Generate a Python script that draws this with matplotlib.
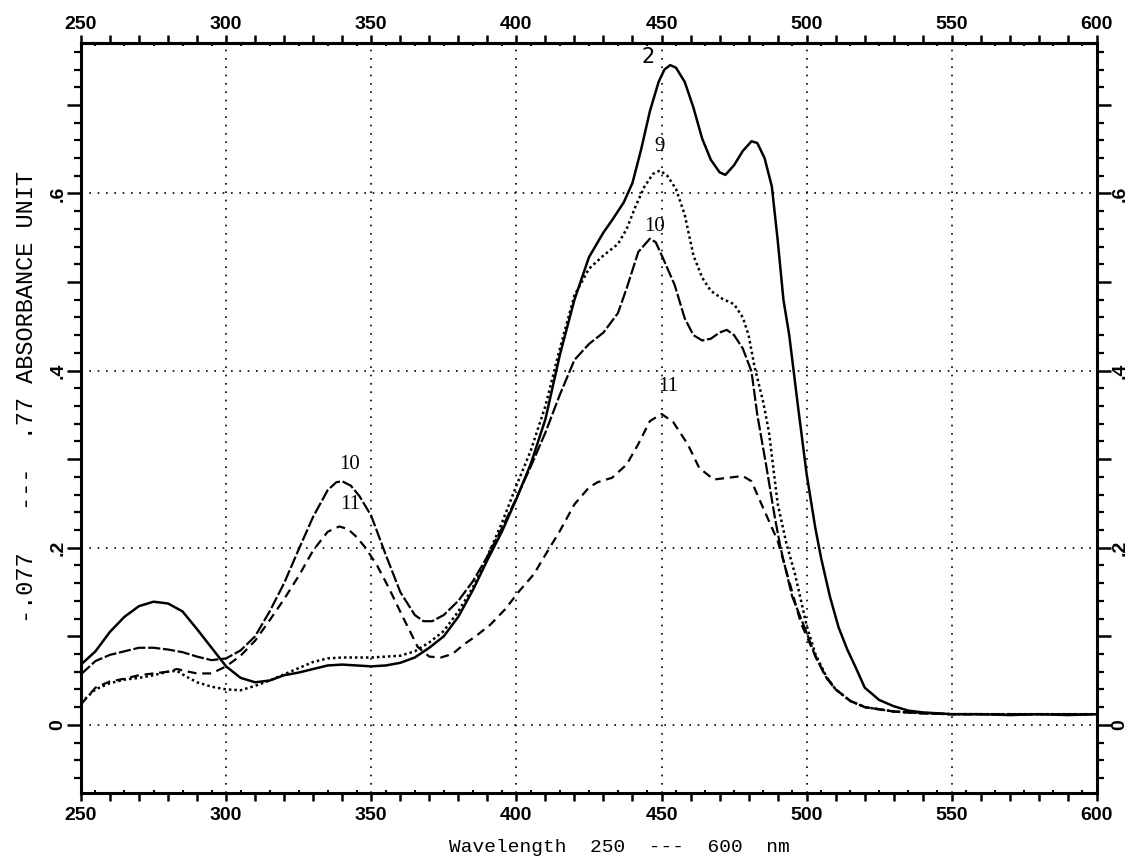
import numpy as np
import matplotlib
matplotlib.use("Agg")
import matplotlib.pyplot as plt
from matplotlib.ticker import MultipleLocator, FuncFormatter

# bold sans for the tick numbers
plt.rcParams["font.family"] = "Liberation Sans"
plt.rcParams["font.weight"] = "bold"
plt.rcParams["xtick.labelsize"] = 14
plt.rcParams["ytick.labelsize"] = 14

# absorbance spectra, curves 2, 9, 10, 11 (wavelength nm, absorbance)
wl_2 = [250, 255, 260, 265, 270, 275, 280, 285, 290, 295, 300, 305, 310, 315, 320,
        325, 330, 335, 340, 345, 350, 355, 360, 365, 370, 375, 380, 385, 390, 395,
        400, 405, 410, 415, 420, 425, 430, 433, 437, 440, 443, 446, 449, 451, 453,
        455, 458, 461, 464, 467, 470, 472, 475, 478, 481, 483, 485.5, 488, 490, 492,
        494, 497, 500, 503, 505, 508, 511, 514, 517, 520, 525, 530, 535, 540, 550,
        560, 570, 580, 590, 600]
abs_2 = [0.068, 0.083, 0.105, 0.122, 0.134, 0.139, 0.137, 0.128, 0.108, 0.087, 0.066,
         0.053, 0.048, 0.050, 0.056, 0.059, 0.063, 0.067, 0.068, 0.067, 0.066, 0.067,
         0.070, 0.076, 0.087, 0.100, 0.122, 0.152, 0.186, 0.218, 0.255, 0.295, 0.345,
         0.418, 0.480, 0.528, 0.556, 0.570, 0.590, 0.612, 0.650, 0.693, 0.726, 0.740,
         0.745, 0.742, 0.726, 0.697, 0.662, 0.638, 0.624, 0.621, 0.632, 0.648, 0.659,
         0.657, 0.640, 0.608, 0.548, 0.480, 0.440, 0.360, 0.283, 0.222, 0.188, 0.145,
         0.110, 0.085, 0.064, 0.042, 0.028, 0.021, 0.016, 0.014, 0.012, 0.012, 0.011,
         0.012, 0.011, 0.012]

wl_9 = [250, 255, 260, 265, 270, 275, 280, 283, 286, 290, 295, 300, 305, 310, 315,
        320, 325, 330, 335, 340, 345, 350, 355, 360, 365, 370, 375, 380, 385, 390,
        395, 400, 405, 410, 415, 420, 425, 430, 435, 438, 441, 444, 447, 449.5, 452,
        455, 458, 461, 464, 467, 471, 475, 478, 480, 482, 485, 487, 490, 493, 496,
        500, 503, 507, 510, 515, 520, 530, 540, 550, 600]
abs_9 = [0.025, 0.040, 0.047, 0.051, 0.053, 0.056, 0.060, 0.061, 0.055, 0.048, 0.043,
         0.040, 0.039, 0.044, 0.050, 0.057, 0.064, 0.071, 0.075, 0.076, 0.076, 0.076,
         0.077, 0.078, 0.083, 0.093, 0.106, 0.128, 0.155, 0.190, 0.228, 0.270, 0.310,
         0.360, 0.425, 0.485, 0.515, 0.530, 0.543, 0.560, 0.585, 0.607, 0.622, 0.626,
         0.620, 0.605, 0.576, 0.530, 0.505, 0.490, 0.481, 0.475, 0.460, 0.440, 0.405,
         0.365, 0.331, 0.250, 0.205, 0.170, 0.112, 0.080, 0.053, 0.040, 0.027, 0.020,
         0.015, 0.013, 0.012, 0.012]

wl_10 = [250, 255, 260, 265, 270, 275, 280, 285, 290, 295, 300, 305, 310, 315, 320,
         325, 330, 335, 338, 340, 343, 346, 350, 355, 360, 365, 368, 371, 375, 380,
         385, 390, 395, 400, 405, 410, 415, 420, 425, 430, 435, 438, 442, 446, 448,
         450.5, 454.5, 458, 461, 464, 467, 470, 472.5, 475, 478, 481, 483, 486, 489,
         491, 495, 500, 503, 507, 510, 515, 520, 530, 540, 550, 600]
abs_10 = [0.057, 0.072, 0.079, 0.083, 0.087, 0.087, 0.085, 0.082, 0.077, 0.073, 0.075,
          0.084, 0.100, 0.128, 0.160, 0.198, 0.235, 0.265, 0.274, 0.275, 0.270, 0.258,
          0.236, 0.192, 0.150, 0.124, 0.117, 0.117, 0.124, 0.140, 0.162, 0.190, 0.222,
          0.256, 0.292, 0.330, 0.373, 0.412, 0.430, 0.443, 0.465, 0.493, 0.534, 0.549,
          0.545, 0.527, 0.497, 0.459, 0.440, 0.434, 0.436, 0.443, 0.446, 0.440, 0.425,
          0.399, 0.350, 0.294, 0.235, 0.200, 0.145, 0.104, 0.077, 0.052, 0.040, 0.027,
          0.020, 0.015, 0.013, 0.012, 0.012]

wl_11 = [250, 255, 260, 265, 270, 275, 280, 283, 287, 290, 295, 300, 305, 310, 315,
         320, 325, 330, 335, 339, 342, 345, 348, 352, 356, 361, 366, 370, 374, 378,
         382, 386, 391, 396, 401, 406, 410, 415, 420, 425, 428, 433, 438, 442, 446,
         450, 454, 459, 463, 468, 473, 478, 481, 485, 490, 494, 498, 502, 506, 510,
         515, 520, 530, 540, 550, 600]
abs_11 = [0.023, 0.042, 0.049, 0.052, 0.056, 0.058, 0.060, 0.063, 0.060, 0.058, 0.058,
          0.066, 0.078, 0.095, 0.118, 0.142, 0.168, 0.197, 0.218, 0.224, 0.221, 0.212,
          0.200, 0.180, 0.155, 0.121, 0.088, 0.077, 0.076, 0.080, 0.091, 0.100, 0.113,
          0.130, 0.151, 0.170, 0.192, 0.219, 0.249, 0.268, 0.274, 0.279, 0.294, 0.317,
          0.343, 0.351, 0.342, 0.317, 0.290, 0.277, 0.279, 0.281, 0.275, 0.245, 0.208,
          0.162, 0.115, 0.085, 0.058, 0.040, 0.027, 0.020, 0.015, 0.013, 0.012, 0.012]

# curve numbers written next to the peaks: (text, wavelength, absorbance)
peak_labels = [("2", 445.4, 0.754), ("9", 449.4, 0.653), ("10", 447.7, 0.563),
               ("11", 452.3, 0.382), ("10", 342.6, 0.294), ("11", 342.6, 0.249)]

fig = plt.figure(figsize=(11.29, 8.61), dpi=100)
ax = fig.add_axes([0.0717, 0.0790, 0.8999, 0.8711])

ax.plot(wl_2, abs_2, color="black", lw=1.8, ls="-")
ax.plot(wl_9, abs_9, color="black", lw=1.8, ls=(0, (1.0, 1.2)))
ax.plot(wl_10, abs_10, color="black", lw=1.6, ls=(0, (5.5, 1.2)))
ax.plot(wl_11, abs_11, color="black", lw=1.6, ls=(0, (4.0, 2.6)))

for txt, x, y in peak_labels:
    fam = "DejaVu Sans" if txt == "2" else "Liberation Serif"
    ax.text(x, y, txt, ha="center", va="center", fontsize=15, family=fam,
            weight="normal")

ax.set_xlim(250, 600)
ax.set_ylim(-0.077, 0.77)

# dotted grid at 50 nm and 0.2 absorbance
for gx in [300, 350, 400, 450, 500, 550]:
    ax.axvline(gx, color="black", lw=1.2, ls=(0, (1, 4)))
for gy in [0, 0.2, 0.4, 0.6]:
    ax.axhline(gy, color="black", lw=1.2, ls=(0, (1, 4)))

for s in ax.spines.values():
    s.set_linewidth(2.2)


def xlab(v, p):
    return "%d" % v if round(v) % 50 == 0 else ""


def ylab(v, p):
    if abs(v) < 1e-6:
        return "0"
    k = int(round(v * 10))
    return ".%d" % k if k in (2, 4, 6) else ""


# bottom wavelength axis
ax.xaxis.set_major_locator(MultipleLocator(10))
ax.xaxis.set_minor_locator(MultipleLocator(5))
ax.xaxis.set_major_formatter(FuncFormatter(xlab))
ax.tick_params(axis="x", which="major", direction="out", length=6, width=1.8,
               top=False, bottom=True, pad=4)
ax.tick_params(axis="x", which="minor", direction="in", length=2.5, width=1.5,
               top=False, bottom=True)

# top wavelength axis, same scale
top = ax.secondary_xaxis("top")
top.xaxis.set_major_locator(MultipleLocator(10))
top.xaxis.set_minor_locator(MultipleLocator(5))
top.xaxis.set_major_formatter(FuncFormatter(xlab))
top.tick_params(axis="x", which="major", direction="out", length=6, width=1.8, pad=1)
top.tick_params(axis="x", which="minor", direction="in", length=2.5, width=1.5)
top.spines["top"].set_linewidth(2.2)

# absorbance axis, left and right
ax.yaxis.set_major_locator(MultipleLocator(0.1))
ax.yaxis.set_minor_locator(MultipleLocator(0.02))
ax.yaxis.set_major_formatter(FuncFormatter(ylab))
ax.tick_params(axis="y", which="major", direction="out", length=10, width=1.8,
               left=True, right=True, labelleft=True, labelright=True, pad=0.5,
               labelrotation=90)
ax.tick_params(axis="y", which="minor", direction="out", length=5, width=1.6,
               left=True, right=True)
plt.setp(ax.yaxis.get_majorticklabels(), va="center")

fig.text(619 / 1129, 1 - 848 / 861, "Wavelength  250  ---  600  nm", ha="center",
         va="center", family="Liberation Mono", weight="normal", fontsize=14)
fig.text(27 / 1129, 1 - 397 / 861, "-.077   ---  .77 ABSORBANCE UNIT",
         rotation=90, ha="center", va="center", family="Liberation Mono",
         weight="normal", fontsize=17)

fig.savefig("out.png", dpi=100)
